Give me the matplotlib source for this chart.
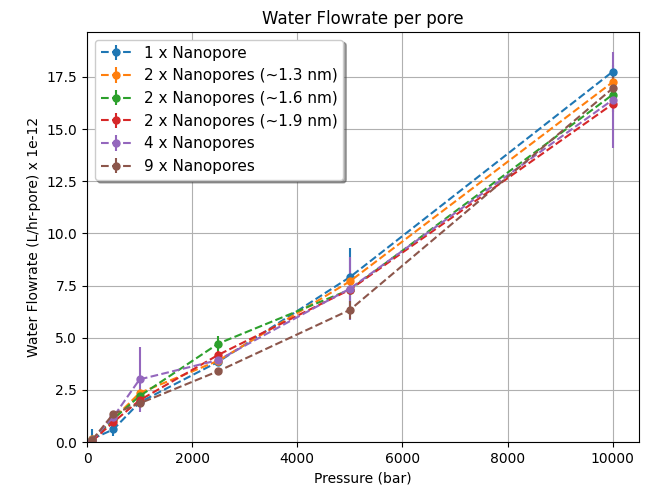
import matplotlib

matplotlib.use("Agg")
import matplotlib.pyplot as plt

# pressure points (bar)
pressure = [100, 500, 1000, 2500, 5000, 10000]

labels = [
    "1 x Nanopore",
    "2 x Nanopores (~1.3 nm)",
    "2 x Nanopores (~1.6 nm)",
    "2 x Nanopores (~1.9 nm)",
    "4 x Nanopores",
    "9 x Nanopores",
]

# flowrate per pore, L/hr-pore x 1e-12
flow_1 = [0.15, 0.6, 1.9, 3.85, 7.9, 17.75]
flow_2a = [0.12, 1.1, 2.35, 3.9, 7.7, 17.25]
flow_2b = [0.1, 1.1, 2.2, 4.72, 7.3, 16.65]
flow_2c = [0.05, 0.95, 2.0, 4.18, 7.3, 16.2]
flow_4 = [0.1, 1.2, 3.0, 3.93, 7.35, 16.4]
flow_9 = [0.1, 1.35, 1.85, 3.4, 6.33, 16.95]

err_1 = [0.45, 0.3, 0.15, 0.15, 1.4, 0.3]
err_2a = [0.1, 0.1, 0.15, 0.1, 0.2, 0.4]
err_2b = [0.1, 0.1, 0.1, 0.35, 0.2, 0.4]
err_2c = [0.05, 0.1, 0.1, 0.2, 0.2, 0.4]
err_4 = [0.1, 0.2, 1.55, 0.15, 1.5, 2.3]
err_9 = [0.05, 0.1, 0.15, 0.1, 0.45, 0.7]

series = [flow_1, flow_2a, flow_2b, flow_2c, flow_4, flow_9]
errors = [err_1, err_2a, err_2b, err_2c, err_4, err_9]


def main():
    fig = plt.figure(figsize=(6.46, 4.94), dpi=100)
    ax = fig.add_axes([87 / 646, 1 - 442 / 494, 552 / 646, 410 / 494])
    for vals, errs, lab in zip(series, errors, labels):
        ax.errorbar(pressure, vals, yerr=errs, fmt="o--", markersize=5, label=lab)
    ax.set_xlim(0, 10500)
    ax.set_ylim(0, 19.65)
    ax.set_xlabel("Pressure (bar)")
    ax.set_ylabel("Water Flowrate (L/hr-pore) x 1e-12")
    ax.set_title("Water Flowrate per pore")
    ax.grid(True)
    ax.legend(loc="upper left", shadow=True, fancybox=True, fontsize=11)
    fig.savefig("out.png", dpi=100)
    plt.close(fig)


if __name__ == "__main__":
    main()
